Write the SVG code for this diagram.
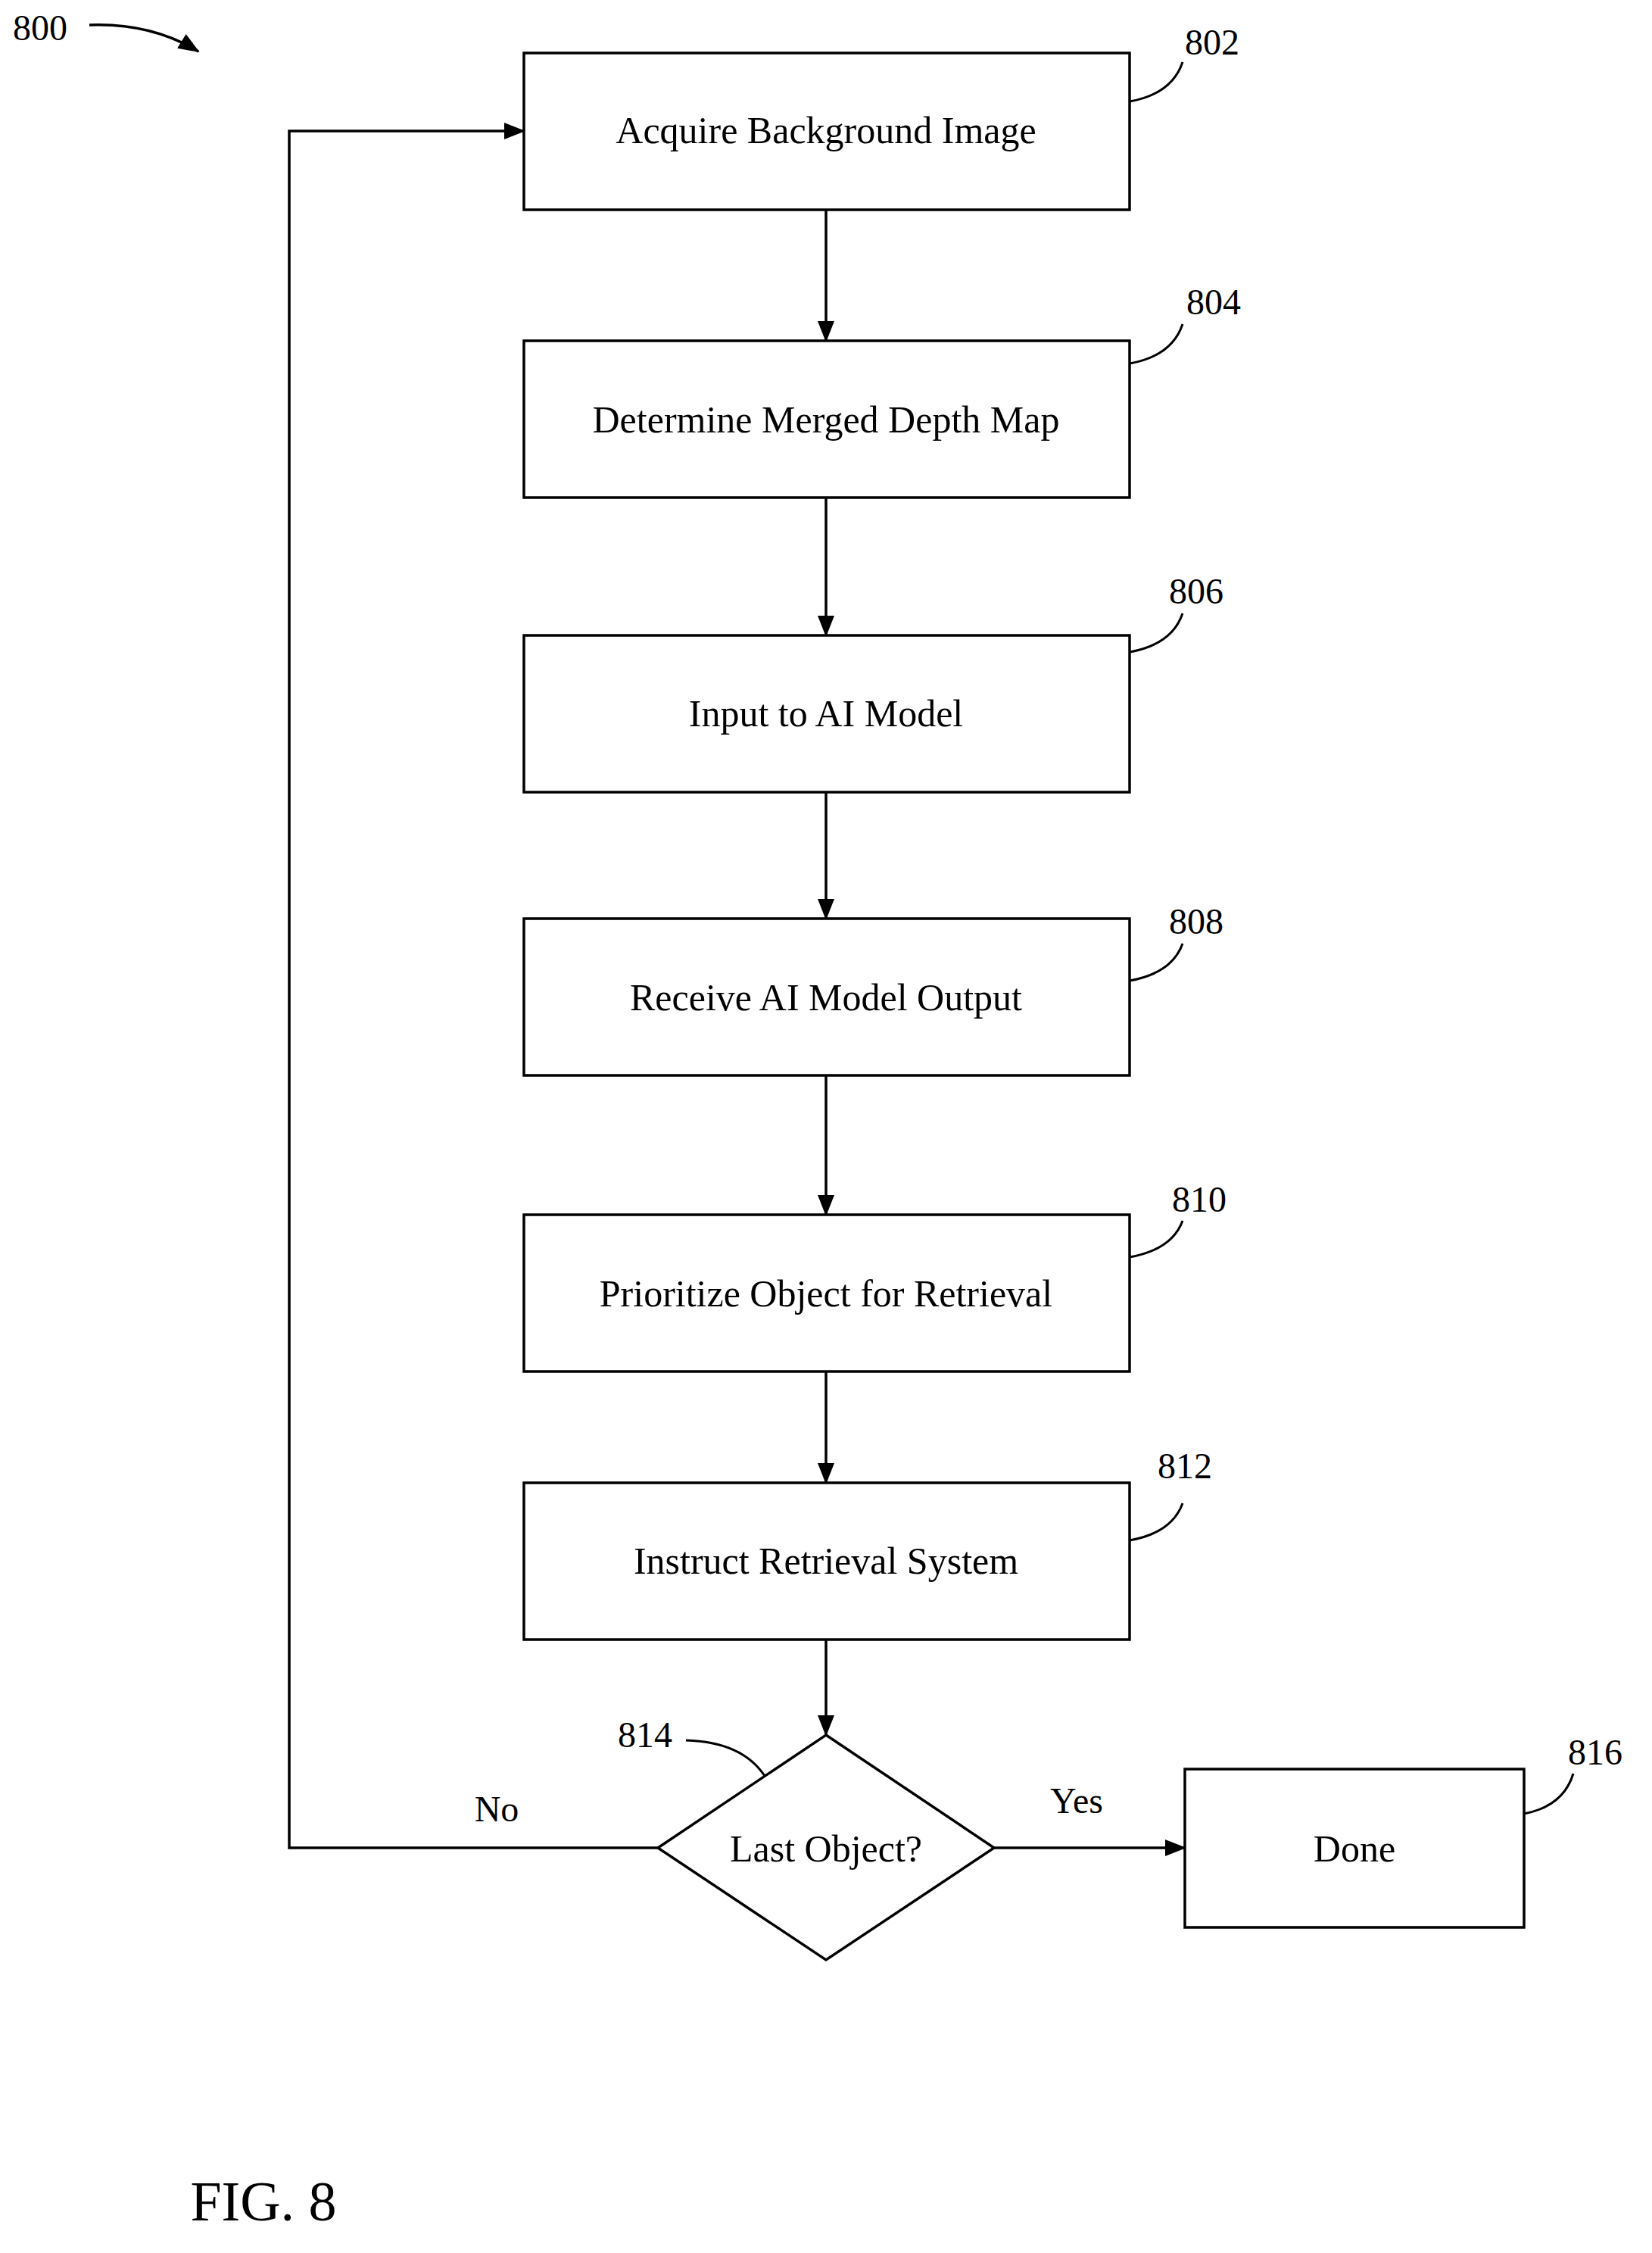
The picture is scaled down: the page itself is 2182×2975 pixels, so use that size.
<svg xmlns="http://www.w3.org/2000/svg" width="2182" height="2975" viewBox="0 0 2182 2975">
<style>
.b{fill:#fff;stroke:#000;stroke-width:3.5}
.t{font-family:"Liberation Serif",serif;font-size:50px;text-anchor:middle;fill:#000}
.n{font-family:"Liberation Serif",serif;font-size:48px;text-anchor:middle;fill:#000}
.c{fill:none;stroke:#000;stroke-width:3.5}
.l{fill:none;stroke:#000;stroke-width:3}
</style>
<defs>
<marker id="ah" markerWidth="28" markerHeight="28" refX="26" refY="14" orient="auto" markerUnits="userSpaceOnUse"><path d="M0 3L28 14L0 25z"/></marker></defs>
<g id="connectors">
<line class="c" x1="1091" y1="277" x2="1091" y2="450" marker-end="url(#ah)"/>
<line class="c" x1="1091" y1="657" x2="1091" y2="839" marker-end="url(#ah)"/>
<line class="c" x1="1091" y1="1046" x2="1091" y2="1213" marker-end="url(#ah)"/>
<line class="c" x1="1091" y1="1420" x2="1091" y2="1604" marker-end="url(#ah)"/>
<line class="c" x1="1091" y1="1811" x2="1091" y2="1958" marker-end="url(#ah)"/>
<line class="c" x1="1091" y1="2165" x2="1091" y2="2291" marker-end="url(#ah)"/>
<polyline class="c" points="869,2440 382,2440 382,173 692,173" marker-end="url(#ah)"/>
<line class="c" x1="1313" y1="2440" x2="1565" y2="2440" marker-end="url(#ah)"/>
<text class="n" x="656" y="2405">No</text>
<text class="n" x="1422" y="2394">Yes</text>
</g>
<g id="label800"><text class="n" x="53" y="53">800</text><path class="c" d="M118 33 Q200 30 262 68" marker-end="url(#ah)"/></g>
<g id="n802"><rect class="b" x="692" y="70" width="800" height="207"/><text class="t" x="1091" y="189">Acquire Background Image</text><text class="n" x="1601" y="72">802</text><path class="l" d="M1492 134 Q1548 124 1562 82"/></g>
<g id="n804"><rect class="b" x="692" y="450" width="800" height="207"/><text class="t" x="1091" y="571">Determine Merged Depth Map</text><text class="n" x="1603" y="415">804</text><path class="l" d="M1492 480 Q1548 470 1562 428"/></g>
<g id="n806"><rect class="b" x="692" y="839" width="800" height="207"/><text class="t" x="1091" y="959">Input to AI Model</text><text class="n" x="1580" y="797">806</text><path class="l" d="M1492 861 Q1548 851 1562 810"/></g>
<g id="n808"><rect class="b" x="692" y="1213" width="800" height="207"/><text class="t" x="1091" y="1334">Receive AI Model Output</text><text class="n" x="1580" y="1233">808</text><path class="l" d="M1492 1295 Q1548 1285 1562 1246"/></g>
<g id="n810"><rect class="b" x="692" y="1604" width="800" height="207"/><text class="t" x="1091" y="1725">Prioritize Object for Retrieval</text><text class="n" x="1584" y="1600">810</text><path class="l" d="M1492 1660 Q1548 1650 1562 1612"/></g>
<g id="n812"><rect class="b" x="692" y="1958" width="800" height="207"/><text class="t" x="1091" y="2078">Instruct Retrieval System</text><text class="n" x="1565" y="1952">812</text><path class="l" d="M1492 2034 Q1548 2024 1562 1985"/></g>
<g id="n814"><polygon class="b" points="1091,2291 1313,2440 1091,2588 869,2440"/><text class="t" x="1091" y="2458">Last Object?</text><text class="n" x="852" y="2307">814</text><path class="l" d="M906 2298 Q980 2300 1010 2345"/></g>
<g id="n816"><rect class="b" x="1565" y="2336" width="448" height="209"/><text class="t" x="1789" y="2458">Done</text><text class="n" x="2107" y="2330">816</text><path class="l" d="M2013 2395 Q2065 2385 2078 2342"/></g>
<text x="348" y="2932" style="font-family:'Liberation Serif',serif;font-size:74px" text-anchor="middle">FIG. 8</text>
</svg>
